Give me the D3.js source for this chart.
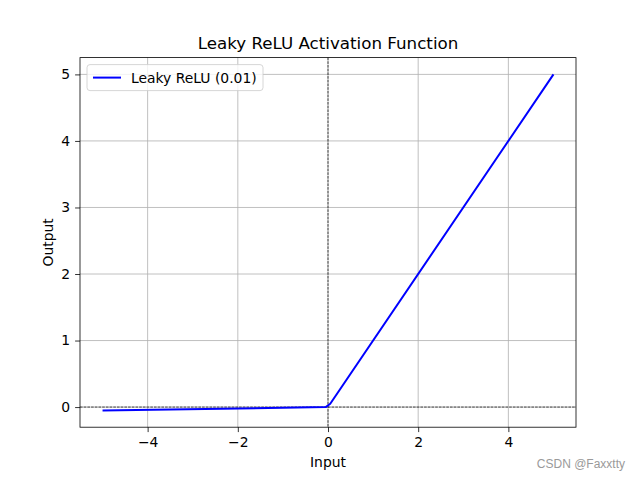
<!DOCTYPE html>
<html>
<head>
<meta charset="utf-8">
<script src="https://cdn.jsdelivr.net/npm/d3@7"></script>
<style>
  body { margin: 0; background: #fff; }
  svg { font-family: "DejaVu Sans", sans-serif; }
</style>
</head>
<body>
<div class="canvas"></div>
<script>
// data (leaky relu, alpha 0.01)
const xs = [-5, -0.05, 0.05, 5]
const ys = [-0.05, -0.0005, 0.05, 5]
const xTicks = [-4, -2, 0, 2, 4]
const yTicks = [0, 1, 2, 3, 4, 5]
const seriesName = 'Leaky ReLU (0.01)'

const dimensions = { width: 640, height: 480 }
const margin = { top: 57.6, right: 64, bottom: 52.8, left: 80 }
const graphWidth = dimensions.width - margin.left - margin.right
const graphHeight = dimensions.height - margin.top - margin.bottom

const svg = d3.select('.canvas')
    .append('svg')
    .attr('width', dimensions.width)
    .attr('height', dimensions.height)

const graph = svg.append('g')
    .attr('transform', `translate(${margin.left}, ${margin.top})`)

// scales with matplotlib-like 5% padding
const xMin = d3.min(xs), xMax = d3.max(xs)
const yMin = d3.min(ys), yMax = d3.max(ys)
const xPad = (xMax - xMin) * 0.05, yPad = (yMax - yMin) * 0.05

const x = d3.scaleLinear()
    .domain([xMin - xPad, xMax + xPad])
    .range([0, graphWidth])

const y = d3.scaleLinear()
    .domain([yMin - yPad, yMax + yPad])
    .range([graphHeight, 0])

// grid
graph.append('g')
    .selectAll('line')
    .data(xTicks)
    .enter().append('line')
    .attr('x1', d => x(d)).attr('x2', d => x(d))
    .attr('y1', 0).attr('y2', graphHeight)
    .attr('stroke', '#b0b0b0').attr('stroke-width', 0.8)

graph.append('g')
    .selectAll('line')
    .data(yTicks)
    .enter().append('line')
    .attr('y1', d => y(d)).attr('y2', d => y(d))
    .attr('x1', 0).attr('x2', graphWidth)
    .attr('stroke', '#b0b0b0').attr('stroke-width', 0.8)

// zero lines, dashed
graph.append('line')
    .attr('x1', x(0)).attr('x2', x(0))
    .attr('y1', 0).attr('y2', graphHeight)
    .attr('stroke', 'black').attr('stroke-width', 0.7)
    .attr('stroke-dasharray', '2.6,1.1')

graph.append('line')
    .attr('y1', y(0)).attr('y2', y(0))
    .attr('x1', 0).attr('x2', graphWidth)
    .attr('stroke', 'black').attr('stroke-width', 0.7)
    .attr('stroke-dasharray', '2.6,1.1')

// the line
const points = xs.map((d, i) => [d, ys[i]])
const line = d3.line()
    .x(d => x(d[0]))
    .y(d => y(d[1]))

graph.append('path')
    .datum(points)
    .attr('d', line)
    .attr('fill', 'none')
    .attr('stroke', 'blue')
    .attr('stroke-width', 2)
    .attr('stroke-linejoin', 'round')

// axes
const xAxis = d3.axisBottom(x)
    .tickValues(xTicks)
    .tickSize(4.9)
    .tickPadding(4.9)
    .tickFormat(d => d < 0 ? '\u2212' + Math.abs(d) : d)

const yAxis = d3.axisLeft(y)
    .tickValues(yTicks)
    .tickSize(4.9)
    .tickPadding(4.9)
    .tickFormat(d3.format('d'))

const xAxisGroup = graph.append('g')
    .attr('transform', `translate(0, ${graphHeight})`)
    .call(xAxis)
const yAxisGroup = graph.append('g').call(yAxis)

;[xAxisGroup, yAxisGroup].forEach(g => {
    g.select('.domain').remove()
    g.selectAll('line').attr('stroke', 'black').attr('stroke-width', 0.8)
    g.selectAll('text')
        .attr('fill', 'black')
        .style('font-size', '13.9px')
        .style('font-family', '"DejaVu Sans", sans-serif')
})

// frame
graph.append('rect')
    .attr('width', graphWidth).attr('height', graphHeight)
    .attr('fill', 'none').attr('stroke', 'black').attr('stroke-width', 0.8)

// title and labels
svg.append('text')
    .attr('x', margin.left + graphWidth / 2)
    .attr('y', margin.top - 8.5)
    .attr('text-anchor', 'middle')
    .style('font-size', '16.7px')
    .text('Leaky ReLU Activation Function')

svg.append('text')
    .attr('x', margin.left + graphWidth / 2)
    .attr('y', 467)
    .attr('text-anchor', 'middle')
    .style('font-size', '13.9px')
    .text('Input')

svg.append('text')
    .attr('transform', `translate(53, ${margin.top + graphHeight / 2}) rotate(-90)`)
    .attr('text-anchor', 'middle')
    .style('font-size', '13.9px')
    .text('Output')

// legend
const legend = graph.append('g').attr('transform', 'translate(7, 7)')
legend.append('rect')
    .attr('width', 176).attr('height', 26)
    .attr('rx', 3)
    .attr('fill', 'white').attr('fill-opacity', 0.8)
    .attr('stroke', '#cccccc').attr('stroke-width', 0.8)
legend.append('line')
    .attr('x1', 6).attr('x2', 34)
    .attr('y1', 13).attr('y2', 13)
    .attr('stroke', 'blue').attr('stroke-width', 2)
legend.append('text')
    .attr('x', 44).attr('y', 18)
    .style('font-size', '13.9px')
    .text(seriesName)

// watermark
svg.append('text')
    .attr('x', 625).attr('y', 468)
    .attr('text-anchor', 'end')
    .attr('fill', '#9a9a9a')
    .style('font-family', '"Liberation Sans", Arial, sans-serif')
    .style('font-size', '12px')
    .text('CSDN @Faxxtty')
</script>
</body>
</html>
